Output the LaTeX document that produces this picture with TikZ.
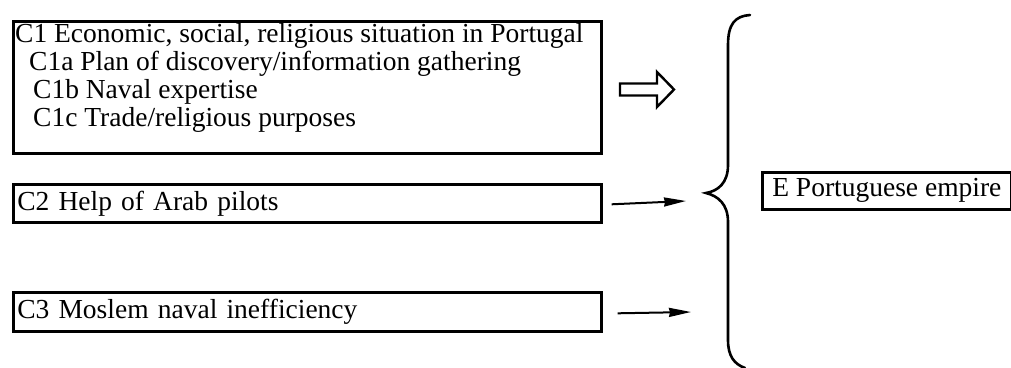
\documentclass[tikz,border=0pt]{standalone}
\usepackage{fontspec}
\setmainfont{Liberation Serif}
\usetikzlibrary{arrows.meta}
\tikzset{
	frame/.style={draw, line width=2.6pt, rectangle, anchor=north west, inner ysep=0pt},
	cbox/.style={frame, inner xsep=4pt, text width=580pt, align=left},
	flow/.style={line width=2pt, -{Stealth[length=22pt,width=9pt,inset=1pt]}}
}
\begin{document}
\begin{tikzpicture}[x=1pt, y=-1pt, line join=miter, font=\fontsize{27.5}{28}\selectfont]
	\useasboundingbox (0,0) rectangle (1011,367);
	% causes
	\node[cbox, minimum height=132pt] (c1) at (12,20) {};
	\node[anchor=north west, inner sep=0pt, align=left] (c1txt) at (15,23) {C1 Economic, social, religious situation in Portugal\\
		\hspace*{14pt}C1a Plan of discovery/information gathering\\
		\hspace*{18pt}C1b Naval expertise\\
		\hspace*{18pt}C1c Trade/religious purposes};
	\node[cbox, minimum height=38pt] (c2) at (12,183) {C2 Help of Arab pilots};
	\node[cbox, minimum height=39pt] (c3) at (12,291) {C3 Moslem naval inefficiency};
	% effect
	\node[frame, inner xsep=10pt, minimum height=37pt] (e) at (761,171) {E Portuguese empire};
	% hollow arrow
	\draw[line width=2.4pt] (620,83.5) -- (657,83.5) -- (657,72) -- (674,89.5) -- (657,107) -- (657,95.5) -- (620,95.5) -- cycle;
	\coordinate (a2) at (686,201);
	\coordinate (a3) at (691,312);
	\draw[flow] ([xshift=9pt,yshift=-1pt]c2.east) -- (a2);
	\draw[flow] ([xshift=15pt,yshift=-1.5pt]c3.east) -- (a3);
	% brace
	\coordinate (tip) at (706,193);
	\draw[line width=2.6pt, line cap=round] (750,15) .. controls (735,16) and (728,24) .. (728,45) -- (728,165)
		.. controls (728,183) and (718,191) .. (tip) .. controls (718,196) and (728,204) .. (728,222)
		-- (728,340) .. controls (728,356) and (734,364) .. (745,368);
\end{tikzpicture}
\end{document}
